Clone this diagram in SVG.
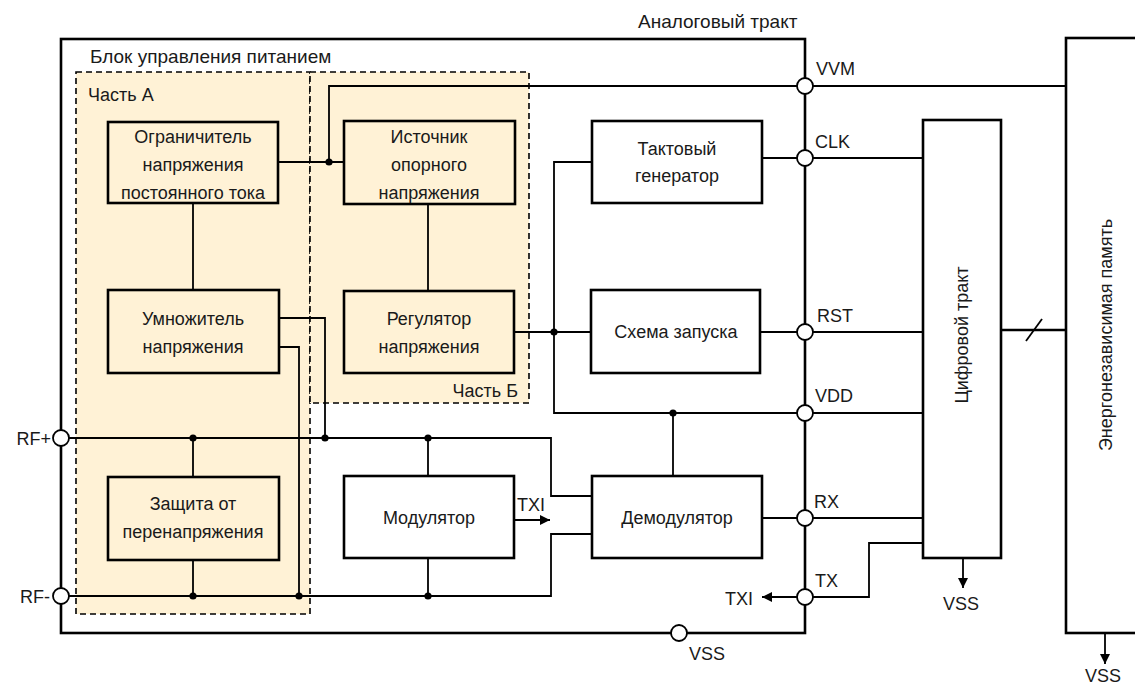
<svg xmlns="http://www.w3.org/2000/svg" width="1135" height="686" viewBox="0 0 1135 686">
<style>
text{font-family:"Liberation Sans",Arial,sans-serif;font-size:18px;fill:#1a1a1a}
.t{font-size:19px}
.c{text-anchor:middle}
.e{text-anchor:end}
.box{stroke:#000;stroke-width:2.6;fill:#fff}
.bz{stroke:#000;stroke-width:2.6;fill:#FFF2D6}
.zone{fill:#FFF2D6;stroke:#000;stroke-width:1.6;stroke-dasharray:6 4}
.w{fill:none;stroke:#000;stroke-width:1.8}
.frame{fill:none;stroke:#000;stroke-width:2.6}
.pin{fill:#fff;stroke:#000;stroke-width:1.8}
.dot{fill:#000}
</style>
<defs>
<marker id="ah" viewBox="0 0 10 10" refX="10" refY="5" markerWidth="12" markerHeight="10" markerUnits="userSpaceOnUse" orient="auto"><path d="M0,0 L10,5 L0,10 z" fill="#000"/></marker>
</defs>

<!-- zones -->
<g id="zone-a"><rect class="zone" x="76" y="72" width="234" height="542"/><text x="88" y="101">Часть А</text></g>
<g id="zone-b"><rect class="zone" x="310" y="72" width="219" height="331"/><text class="e" x="518" y="397">Часть Б</text></g>

<!-- analog frame -->
<g id="analog">
<rect class="frame" x="61" y="39" width="744" height="594"/>
<text class="t" x="638" y="28">Аналоговый тракт</text>
<text class="t" x="90" y="63">Блок управления питанием</text>
</g>

<!-- connectors -->
<g id="connectors">
<path class="w" d="M278,162 H344"/>
<path class="w" d="M329,162 V86 H1066"/>
<path class="w" d="M193,203 V290"/>
<path class="w" d="M428,204 V291"/>
<path class="w" d="M592,162 H554 V413 H923"/>
<path class="w" d="M514,332 H591"/>
<path class="w" d="M762,158 H923"/>
<path class="w" d="M760,332 H923"/>
<path class="w" d="M673,413 V476"/>
<path class="w" d="M762,518 H923"/>
<path class="w" d="M279,318 H325 V438"/>
<path class="w" d="M279,347 H299 V596"/>
<path class="w" d="M61,438 H551 V496 H592"/>
<path class="w" d="M61,596 H551 V534 H592"/>
<path class="w" d="M193,438 V477"/>
<path class="w" d="M193,560 V596"/>
<path class="w" d="M428,438 V476"/>
<path class="w" d="M428,558 V596"/>
<path class="w" d="M514,520 H550" marker-end="url(#ah)"/>
<path class="w" d="M797,597 H762" marker-end="url(#ah)"/>
<path class="w" d="M813,597 H869 V543 H923"/>
<path class="w" d="M963,558 V588" marker-end="url(#ah)"/>
<path class="w" d="M1105,633 V664" marker-end="url(#ah)"/>
<path class="w" d="M1001,330 H1066" style="stroke-width:2.4"/>
<path class="w" d="M1026,341 L1042,319"/>
<circle class="dot" cx="329" cy="162" r="3.6"/>
<circle class="dot" cx="554" cy="332" r="3.6"/>
<circle class="dot" cx="673" cy="413" r="3.6"/>
<circle class="dot" cx="325" cy="438" r="3.6"/>
<circle class="dot" cx="193" cy="438" r="3.6"/>
<circle class="dot" cx="428" cy="438" r="3.6"/>
<circle class="dot" cx="193" cy="596" r="3.6"/>
<circle class="dot" cx="299" cy="596" r="3.6"/>
<circle class="dot" cx="428" cy="596" r="3.6"/>
</g>

<!-- pins -->
<g id="pins">
<circle class="pin" cx="805" cy="86" r="8"/><text x="816" y="75">VVM</text>
<circle class="pin" cx="805" cy="158" r="8"/><text x="815" y="148">CLK</text>
<circle class="pin" cx="805" cy="332" r="8"/><text x="817" y="322">RST</text>
<circle class="pin" cx="805" cy="413" r="8"/><text x="815" y="402">VDD</text>
<circle class="pin" cx="805" cy="518" r="8"/><text x="814" y="508">RX</text>
<circle class="pin" cx="805" cy="597" r="8"/><text x="815" y="587">TX</text>
<text class="e" x="753" y="605">TXI</text>
<text x="517" y="511">TXI</text>
<circle class="pin" cx="61" cy="438" r="8"/><text class="e" x="51" y="445">RF+</text>
<circle class="pin" cx="61" cy="596" r="8"/><text class="e" x="50" y="603">RF-</text>
<circle class="pin" cx="679" cy="633" r="8"/><text class="c" x="707" y="660">VSS</text>
<text class="c" x="961" y="610">VSS</text>
<text class="c" x="1103" y="682">VSS</text>
</g>

<!-- nodes -->
<g id="limiter"><rect class="bz" x="108" y="122" width="170" height="81"/><text class="c" x="193" y="143">Ограничитель<tspan x="193" dy="28">напряжения</tspan><tspan x="193" dy="28">постоянного тока</tspan></text></g>
<g id="reference"><rect class="bz" x="344" y="121" width="171" height="83"/><text class="c" x="429" y="143">Источник<tspan x="429" dy="28">опорного</tspan><tspan x="429" dy="28">напряжения</tspan></text></g>
<g id="multiplier"><rect class="bz" x="108" y="290" width="171" height="83"/><text class="c" x="193" y="325">Умножитель<tspan x="193" dy="28">напряжения</tspan></text></g>
<g id="regulator"><rect class="bz" x="344" y="291" width="170" height="82"/><text class="c" x="429" y="325">Регулятор<tspan x="429" dy="28">напряжения</tspan></text></g>
<g id="protection"><rect class="bz" x="108" y="477" width="171" height="83"/><text class="c" x="193" y="510">Защита от<tspan x="193" dy="28">перенапряжения</tspan></text></g>
<g id="clockgen"><rect class="box" x="592" y="121" width="170" height="82"/><text class="c" x="677" y="155">Тактовый<tspan x="677" dy="27">генератор</tspan></text></g>
<g id="startup"><rect class="box" x="591" y="290" width="169" height="83"/><text class="c" x="676" y="338">Схема запуска</text></g>
<g id="modulator"><rect class="box" x="344" y="476" width="170" height="82"/><text class="c" x="429" y="524">Модулятор</text></g>
<g id="demodulator"><rect class="box" x="592" y="476" width="170" height="82"/><text class="c" x="677" y="524">Демодулятор</text></g>
<g id="digital"><rect class="box" x="923" y="120" width="78" height="438"/><text class="c" transform="translate(962,335) rotate(-90)" x="0" y="6">Цифровой тракт</text></g>
<g id="memory"><rect class="box" x="1066" y="38" width="90" height="595"/><text class="c" transform="translate(1106,335) rotate(-90)" x="0" y="6">Энергонезависимая память</text></g>
</svg>
